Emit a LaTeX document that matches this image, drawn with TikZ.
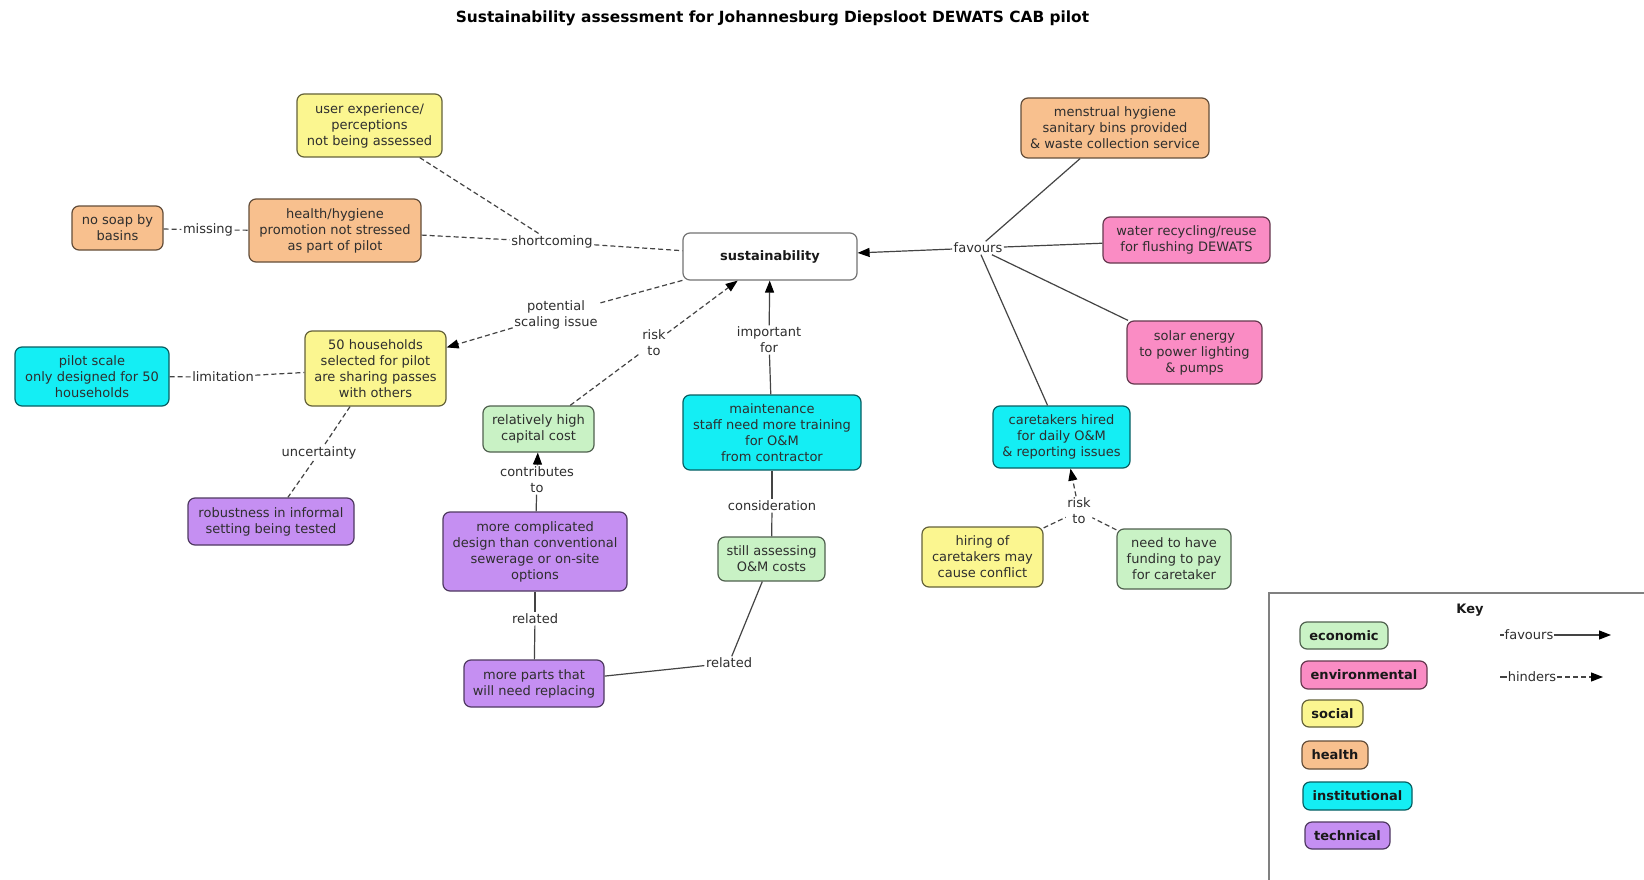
\documentclass[tikz,border=0pt]{standalone}
\usepackage{fontspec}
\setmainfont{DejaVu Sans}
\usetikzlibrary{arrows.meta}

% category colours
\definecolor{econ}{HTML}{C9F2C5}
\definecolor{env}{HTML}{FA8CC4}
\definecolor{soc}{HTML}{FBF690}
\definecolor{hlth}{HTML}{F8C08E}
\definecolor{inst}{HTML}{14EEF4}
\definecolor{tech}{HTML}{C58FF2}
\definecolor{textc}{HTML}{2E2E2E}
\definecolor{linec}{HTML}{444444}

\begin{document}
\begin{tikzpicture}[x=1pt,y=-1pt,
  font=\fontsize{13}{16}\selectfont,
  box/.style={draw=#1!40!black, fill=#1, line width=1.2pt, rounded corners=7pt,
    align=center, text=textc, inner sep=2pt},
  keybox/.style={box=#1, font=\bfseries\fontsize{13}{16}\selectfont, text=black!90},
  lbl/.style={align=center, text=textc, inner sep=1.5pt},
  link/.style={draw=linec, line width=1.2pt},
  hind/.style={link, dash pattern=on 5pt off 3pt},
  tip/.style={-{Triangle[length=12pt,width=9pt,color=black]}},
]
\fill[white] (0,0) rectangle (1644,880);
\useasboundingbox (0,0) rectangle (1644,880);

% title
\node[font=\bfseries\fontsize{15.4}{18}\selectfont, text=black] (title) at (772.5,18)
  {Sustainability assessment for Johannesburg Diepsloot DEWATS CAB pilot};

% central concept
\node[draw=black!55, fill=white, line width=1.2pt, rounded corners=7pt,
  minimum width=174pt, minimum height=47pt, font=\bfseries\fontsize{13}{16}\selectfont,
  text=black!90] (sust) at (770,256.5) {sustainability};

% concepts
\node[box=soc, minimum width=145pt, minimum height=63pt] (ux) at (369.5,125.5)
  {user experience/\\perceptions\\not being assessed};
\node[box=hlth, minimum width=91pt, minimum height=44pt] (soap) at (117.5,228)
  {no soap by\\basins};
\node[box=hlth, minimum width=172pt, minimum height=63pt] (hyg) at (335,230.5)
  {health/hygiene\\promotion not stressed\\as part of pilot};
\node[box=inst, minimum width=154pt, minimum height=59pt] (pilot) at (92,376.5)
  {pilot scale\\only designed for 50\\households};
\node[box=soc, minimum width=141pt, minimum height=75pt] (hh) at (375.5,368.5)
  {50 households\\selected for pilot\\are sharing passes\\with others};
\node[box=tech, minimum width=166pt, minimum height=47pt] (robust) at (271,521.5)
  {robustness in informal\\setting being tested};
\node[box=econ, minimum width=111pt, minimum height=46pt] (capcost) at (538.5,429)
  {relatively high\\capital cost};
\node[box=tech, minimum width=184pt, minimum height=79pt] (complex) at (535,551.5)
  {more complicated\\design than conventional\\sewerage or on-site\\options};
\node[box=tech, minimum width=140pt, minimum height=47pt] (parts) at (534,683.5)
  {more parts that\\will need replacing};
\node[box=inst, minimum width=178pt, minimum height=75pt] (maint) at (772,432.5)
  {maintenance\\staff need more training\\for O\&M\\from contractor};
\node[box=econ, minimum width=107pt, minimum height=44pt] (omcost) at (771.5,559)
  {still assessing\\O\&M costs};
\node[box=hlth, minimum width=188pt, minimum height=60pt] (menst) at (1115,128)
  {menstrual hygiene\\sanitary bins provided\\\& waste collection service};
\node[box=env, minimum width=167pt, minimum height=46pt] (water) at (1186.5,240)
  {water recycling/reuse\\for flushing DEWATS};
\node[box=env, minimum width=135pt, minimum height=63pt] (solar) at (1194.5,352.5)
  {solar energy\\to power lighting\\\& pumps};
\node[box=inst, minimum width=137pt, minimum height=62pt] (care) at (1061.5,437)
  {caretakers hired\\for daily O\&M\\\& reporting issues};
\node[box=soc, minimum width=121pt, minimum height=60pt] (conflict) at (982.5,557)
  {hiring of\\caretakers may\\cause conflict};
\node[box=econ, minimum width=114pt, minimum height=60pt] (funding) at (1174,559)
  {need to have\\funding to pay\\for caretaker};

% linking phrases
\node[lbl] (shortc) at (552,242) {shortcoming};
\node[lbl] (missing) at (208,230) {missing};
\node[lbl] (limit) at (223,377) {limitation};
\node[lbl] (uncert) at (319,453) {uncertainty};
\node[lbl] (scaling) at (556,315) {potential\\scaling issue};
\node[lbl] (risk) at (654,343) {risk\\to};
\node[lbl] (important) at (769,340) {important\\for};
\node[lbl] (contrib) at (537,480) {contributes\\to};
\node[lbl] (consid) at (772,506) {consideration};
\node[lbl] (relA) at (535,619) {related};
\node[lbl] (relB) at (729,663) {related};
\node[lbl] (fav) at (978,248) {favours};
\node[lbl] (riskB) at (1079,511) {risk\\to};

% hindering links
\draw[hind] (ux) -- (shortc);
\draw[hind] (hyg) -- (shortc);
\draw[hind] (shortc) -- (sust);
\draw[hind] (soap) -- (missing);
\draw[hind] (missing) -- (hyg);
\draw[hind] (pilot) -- (limit);
\draw[hind] (limit) -- (hh);
\draw[hind] (hh) -- (uncert);
\draw[hind] (uncert) -- (robust);
\draw[hind] (sust) -- (scaling);
\draw[hind, tip] (scaling) -- (hh);
\draw[hind] (capcost) -- (risk);
\draw[hind, tip] (risk) -- (sust);
\draw[hind] (conflict) -- (riskB);
\draw[hind] (funding) -- (riskB);
\draw[hind, tip] (riskB) -- ([xshift=9pt]care.south);

% favouring / neutral links
\draw[link] (maint) -- (important);
\draw[link, tip] (important) -- (sust);
\draw[link] (complex) -- (contrib);
\draw[link, tip] (contrib) -- (capcost);
\draw[link] (maint) -- (consid);
\draw[link] (consid) -- (omcost);
\draw[link] (complex) -- (relA);
\draw[link] (relA) -- (parts);
\draw[link] (parts) -- (relB);
\draw[link] (relB) -- (omcost);
\draw[link] (menst) -- (fav);
\draw[link] (water) -- (fav);
\draw[link] (solar) -- (fav);
\draw[link] (care) -- (fav);
\draw[link, tip] (fav) -- (sust);

% key
\draw[draw=black!50, line width=1.3pt] (1269,880) -- (1269,593) -- (1644,593);
\node[font=\bfseries\fontsize{13}{16}\selectfont, text=black!90] (keyt) at (1470,610) {Key};
\node[keybox=econ, minimum width=88pt, minimum height=27pt] (kecon) at (1344,635.5) {economic};
\node[keybox=env, minimum width=126pt, minimum height=28pt] (kenv) at (1364,675) {environmental};
\node[keybox=soc, minimum width=61pt, minimum height=27pt] (ksoc) at (1332.5,713.5) {social};
\node[keybox=hlth, minimum width=66pt, minimum height=28pt] (khlth) at (1335,755) {health};
\node[keybox=inst, minimum width=109pt, minimum height=28pt] (kinst) at (1357.5,796) {institutional};
\node[keybox=tech, minimum width=85pt, minimum height=27pt] (ktech) at (1347.5,835.5) {technical};

\coordinate (kf0) at (1500,635);
\node[lbl, inner sep=1pt] (kfav) at (1529,635) {favours};
\coordinate (kf1) at (1611,635);
\draw[link] (kf0) -- (kfav);
\draw[link, tip] (kfav) -- (kf1);

\coordinate (kh0) at (1500,677);
\node[lbl, inner sep=1pt] (khin) at (1532,677) {hinders};
\coordinate (kh1) at (1603,677);
\draw[link] (kh0) -- (khin);
\draw[hind, tip] (khin) -- (kh1);
\end{tikzpicture}
\end{document}
